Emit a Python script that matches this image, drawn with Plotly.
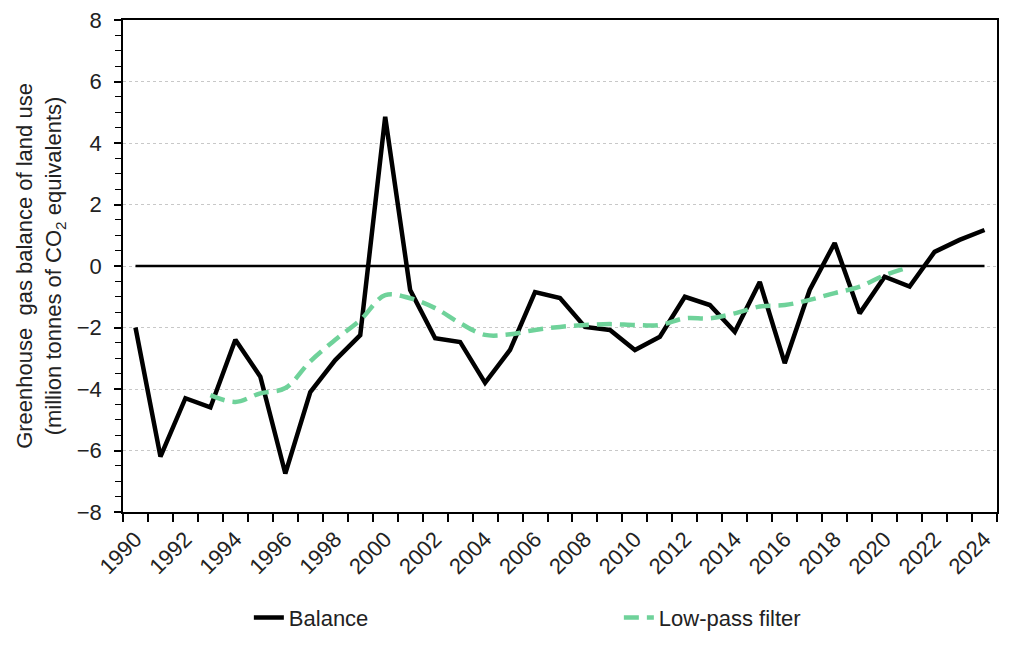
import plotly.graph_objects as go

years = list(range(1990, 2025))
balance = [-2.0, -6.2, -4.3, -4.6, -2.4, -3.6, -6.75, -4.1, -3.06, -2.25,
           4.85, -0.78, -2.35, -2.47, -3.8, -2.73, -0.85, -1.04, -1.98, -2.08,
           -2.73, -2.3, -1.0, -1.27, -2.14, -0.52, -3.16, -0.78, 0.75, -1.54,
           -0.35, -0.67, 0.46, 0.85, 1.17]
lp_years = list(range(1993, 2022))
lowpass = [-4.2, -4.42, -4.14, -3.97, -3.1, -2.4, -1.76, -0.95, -1.05, -1.37,
           -1.86, -2.24, -2.22, -2.08, -1.98, -1.92, -1.89, -1.92, -1.92, -1.7,
           -1.7, -1.54, -1.32, -1.27, -1.1, -0.88, -0.67, -0.3, -0.03]
zero = [0.0] * len(years)
tick_years = list(range(1990, 2025, 2))
boundaries = [y - 0.5 for y in range(1990, 2026)]

FONT = "Liberation Sans, Arial, sans-serif"

fig = go.Figure()
fig.add_trace(go.Scatter(x=years, y=zero, mode="lines",
                         line=dict(color="black", width=2.5),
                         showlegend=False, hoverinfo="skip"))
fig.add_trace(go.Scatter(x=years, y=balance, mode="lines", name="Balance",
                         line=dict(color="black", width=4.5)))
fig.add_trace(go.Scatter(x=lp_years, y=lowpass, mode="lines", name="Low-pass filter",
                         line=dict(color="#6fd29a", width=4.5, dash="15px,8px", shape="spline")))

fig.update_layout(
    width=1024, height=648,
    margin=dict(l=115, r=35, t=12, b=144, autoexpand=False),
    paper_bgcolor="white", plot_bgcolor="white",
    font=dict(family=FONT, size=21, color="#222"),
    legend=dict(orientation="h", x=0.144, y=-0.215, xanchor="left", yanchor="middle",
                entrywidth=325, entrywidthmode="pixels",
                font=dict(family=FONT, size=22, color="#222")),
    showlegend=True,
)
fig.update_xaxes(
    range=[1989.5, 2024.5], automargin=False,
    tickmode="array", tickvals=tick_years, ticktext=[str(y) for y in tick_years],
    tickangle=-45, ticks="", showgrid=False, zeroline=False,
    showline=True, linecolor="black", linewidth=1.5, mirror=True,
    minor=dict(tickmode="array", tickvals=boundaries, ticks="outside",
               ticklen=8, tickcolor="black", tickwidth=1.5, showgrid=False),
    tickfont=dict(family=FONT, size=22, color="#222"),
    ticklabelstandoff=4, ticklabeloverflow="allow",
)
fig.update_yaxes(
    range=[-8, 8], dtick=2, tickmode="linear", tick0=-8, automargin=False,
    ticks="outside", ticklen=7, tickcolor="black", tickwidth=1.5,
    showgrid=True, gridcolor="#c8c8c8", griddash="dot", gridwidth=1,
    zeroline=False,
    showline=True, linecolor="black", linewidth=1.5, mirror=True,
    minor=dict(dtick=0.5, ticks="outside", ticklen=6, tickcolor="black", tickwidth=1.2, showgrid=False),
    tickfont=dict(family=FONT, size=22, color="#222"),
    ticklabelstandoff=8, ticklabeloverflow="allow",
    title=dict(text="Greenhouse  gas balance of land use<br>(million tonnes of CO<sub>2</sub> equivalents)",
               font=dict(family=FONT, size=22, color="#222"), standoff=9),
)

fig.write_html("out.html")
